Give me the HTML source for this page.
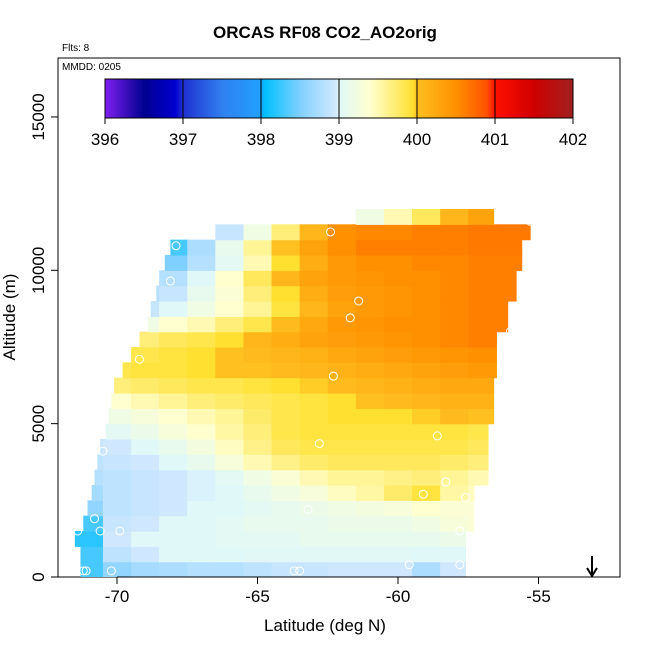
<!DOCTYPE html>
<html><head><meta charset="utf-8">
<style>
html,body{margin:0;padding:0;background:#fff;}
svg{display:block;font-family:"Liberation Sans",sans-serif;}
</style></head>
<body>
<svg id="chart" width="650" height="650" viewBox="0 0 650 650">
<defs>
<linearGradient id="cbGrad" x1="0" x2="1" y1="0" y2="0"></linearGradient>
<clipPath id="plotClip"><rect x="58" y="58" width="562" height="519"></rect></clipPath>
</defs>
<text x="325" y="38" text-anchor="middle" font-size="17" font-weight="bold">ORCAS RF08 CO2_AO2orig</text>
<text x="62" y="51" font-size="10">Flts: 8</text>
<rect x="58" y="58" width="562" height="519" fill="none" stroke="#000" stroke-width="1"></rect>
<text x="62" y="70" font-size="10">MMDD: 0205</text>
<g id="cells" clip-path="url(#plotClip)"></g>
<g id="points"></g>
<g id="colorbar"></g>
<g id="axes"></g>
<text x="325" y="631" text-anchor="middle" font-size="17">Latitude (deg N)</text>
<text transform="translate(15,317) rotate(-90)" text-anchor="middle" font-size="17">Altitude (m)</text>
<g>
<line x1="592" y1="556" x2="592" y2="575" stroke="#000" stroke-width="2"></line>
<polyline points="587,568 592,576 597,568" fill="none" stroke="#000" stroke-width="2"></polyline>
</g>
</svg>
<script>
const latCenters = [-71,-70,-69,-68,-67,-66,-65,-64,-63,-62,-61,-60,-59,-58,-57,-56,-55];
const altStarts = [0,500,1000,1500,2000,2500,3000,3500,4000,4500,5000,5500,6000,6500,7000,7500,8000,8500,9000,9500,10000,10500,11000,11500];
const rowLatMin = [-71.3,-71.3,-71.5,-71.2,-71.05,-70.9,-70.8,-70.7,-70.6,-70.4,-70.3,-70.2,-70.1,-69.8,-69.5,-69.2,-68.9,-68.8,-68.6,-68.5,-68.3,-68.1,-66.5,-61.5];
const rowLatMax = [-57.6,-57.6,-57.6,-57.3,-57.3,-57.3,-56.8,-56.8,-56.8,-56.8,-56.6,-56.6,-56.6,-56.3,-56.3,-56.3,-56.1,-56.1,-55.8,-55.8,-55.6,-55.6,-55.3,-56.6];
const n = null;
const co2 = [
[398.3,398.6,398.7,398.75,398.8,398.8,398.85,398.9,398.9,398.95,398.95,398.95,398.75,398.95,n,n,n],
[398.3,398.85,398.95,399,399,399,399.02,399.02,399.02,399.02,399.02,399.02,399,399,n,n,n],
[398.2,398.95,399,399,399,399.05,399.05,399.05,399.1,399.1,399.1,399.1,399.1,399.15,n,n,n],
[398.3,398.9,398.95,399,399,399.05,399.1,399.1,399.1,399.15,399.15,399.15,399.2,399.3,399.35,n,n],
[398.6,398.85,398.9,398.95,399,399,399.05,399.1,399.15,399.2,399.25,399.3,399.4,399.35,399.35,n,n],
[398.7,398.85,398.9,398.95,398.98,399,399.1,399.2,399.3,399.45,399.55,399.75,399.9,399.55,399.45,n,n],
[398.8,398.85,398.9,398.95,398.98,399.05,399.2,399.35,399.5,399.6,399.6,399.65,399.7,399.6,399.5,n,n],
[398.85,398.9,398.95,399.0,399.1,399.3,399.5,399.65,399.75,399.8,399.8,399.8,399.8,399.75,399.7,n,n],
[398.9,398.95,399.0,399.1,399.25,399.45,399.65,399.8,399.85,399.85,399.85,399.85,399.85,399.85,399.8,n,n],
[399.0,399.05,399.15,399.3,399.4,399.55,399.7,399.85,399.9,399.9,399.9,399.9,399.9,399.9,399.85,n,n],
[399.2,399.2,399.3,399.4,399.5,399.6,399.75,399.85,399.9,399.95,399.95,399.95,399.98,400.05,400.0,n,n],
[399.4,399.4,399.5,399.6,399.7,399.75,399.8,399.85,399.9,399.95,400,400.05,400.1,400.15,400.15,n,n],
[399.7,399.7,399.75,399.8,399.85,399.85,399.9,399.95,399.98,400.05,400.1,400.15,400.2,400.25,400.25,n,n],
[n,399.85,399.9,399.9,399.95,400,400,400.05,400.1,400.15,400.2,400.25,400.3,400.35,400.4,n,n],
[n,399.8,399.85,399.9,399.95,400,400.05,400.1,400.15,400.25,400.3,400.35,400.4,400.45,400.5,n,n],
[n,399.7,399.7,399.8,399.85,399.95,400.1,400.2,400.3,400.35,400.4,400.45,400.5,400.55,400.6,n,n],
[n,n,399.2,399.4,399.5,399.7,399.85,400.05,400.25,400.4,400.45,400.5,400.5,400.55,400.6,400.6,n],
[n,n,398.9,399.0,399.2,399.4,399.6,399.9,400.1,400.3,400.4,400.45,400.5,400.55,400.6,400.6,n],
[n,n,398.8,398.9,399.1,399.35,399.7,399.95,400.2,400.35,400.4,400.45,400.5,400.55,400.6,400.6,n],
[n,n,398.6,398.8,399.0,399.4,399.8,400.1,400.3,400.4,400.45,400.5,400.5,400.55,400.6,400.6,n],
[n,n,n,398.5,398.8,399.05,399.5,399.95,400.2,400.4,400.5,400.5,400.55,400.55,400.6,400.6,400.6],
[n,n,n,398.3,398.75,399.1,399.6,400.0,400.3,400.5,400.6,400.6,400.6,400.6,400.65,400.65,400.65],
[n,n,n,n,398.8,398.9,399.2,399.7,400.1,400.5,400.55,400.55,400.6,400.6,400.65,400.65,400.65],
[n,n,n,n,n,n,n,n,398.9,399.0,399.2,399.5,399.8,400.1,400.3,400.5,400.5]
];
const pointLat = [-67.9,-68.1,-61.4,-61.7,-62.4,-58.0,-55.3,-56.0,-69.2,-62.3,-58.6,-62.8,-58.3,-59.1,-63.2,-70.8,-70.6,-69.9,-71.4,-57.8,-59.6,-57.8,-71.2,-71.1,-70.2,-63.7,-63.5,-70.5,-57.6];
const pointAlt = [10800,9650,9000,8450,11250,12200,11600,8000,7100,6550,4600,4350,3100,2700,2200,1900,1500,1500,1500,1500,400,400,200,200,200,200,200,4100,2600];
const xTicks = [-70,-65,-60,-55];
const yTicks = [0,5000,10000,15000];
const cbTicks = [396,397,398,399,400,401,402];
const cbStopVals = [396,396.5,396.9,397,397.5,398,398.05,398.5,398.95,399,399.4,399.95,400,400.5,400.9,401,401.5,402];
const cbStopCols = ["#8020f0","#000090","#0000d0","#2030d0","#3080f0","#20a0ff","#00c0ff","#80d0ff","#d0e8ff","#e0f8f8","#ffffd0","#ffe030","#ffc020","#ff9000","#ff5000","#ff1000","#d00000","#a02020"];

const NS="http://www.w3.org/2000/svg";
const xs = v => 117 + (v + 70) * 28.1;
const ys = v => 577 - v * 0.03067;
const cbx = v => 105 + (v - 396) * 78;
function hex2rgb(h){return [1,3,5].map(i=>parseInt(h.substr(i,2),16));}
function colorFor(v){
  if(v<=cbStopVals[0]) return cbStopCols[0];
  for(let i=1;i<cbStopVals.length;i++){
    if(v<=cbStopVals[i]){
      const t=(v-cbStopVals[i-1])/(cbStopVals[i]-cbStopVals[i-1]);
      const a=hex2rgb(cbStopCols[i-1]), b=hex2rgb(cbStopCols[i]);
      return "rgb("+a.map((c,k)=>Math.round(c+(b[k]-c)*t)).join(",")+")";
    }
  }
  return cbStopCols[cbStopCols.length-1];
}
function mk(tag,attrs,parent){const e=document.createElementNS(NS,tag);for(const k in attrs)e.setAttribute(k,attrs[k]);parent.appendChild(e);return e;}

const cellsG=document.getElementById('cells');
co2.forEach((row,ri)=>{
  const a0=altStarts[ri], a1=a0+500;
  row.forEach((v,ci)=>{
    if(v===null) return;
    let l0=Math.max(latCenters[ci]-0.5,rowLatMin[ri]);
    let l1=Math.min(latCenters[ci]+0.5,rowLatMax[ri]);
    if(l1<=l0) return;
    const x0=xs(l0), x1=xs(l1);
    const r=mk('rect',{x:x0,y:ys(a1),width:x1-x0+0.6,height:ys(a0)-ys(a1)+0.6,fill:colorFor(v)},cellsG);
    
    
  });
});
const ptsG=document.getElementById('points');
pointLat.forEach((la,i)=>{
  const c=mk('circle',{cx:xs(la),cy:ys(pointAlt[i]),r:4,fill:'none',stroke:'#fff','stroke-width':1},ptsG);
  
  
});
const grad=document.getElementById('cbGrad');
cbStopVals.forEach((v,i)=>{mk('stop',{offset:((v-396)/6*100)+'%','stop-color':cbStopCols[i]},grad);});
const cbG=document.getElementById('colorbar');
const cbr=mk('rect',{x:105,y:79,width:468,height:39,fill:'url(#cbGrad)',stroke:'#000','stroke-width':1},cbG);


cbTicks.forEach(t=>{
  const x=cbx(t);
  mk('line',{x1:x,y1:79,x2:x,y2:124,stroke:'#000','stroke-width':1},cbG);
  const tx=mk('text',{x:x,y:145,'text-anchor':'middle','font-size':17},cbG);
  tx.textContent=t;
  
  
});
const axG=document.getElementById('axes');
mk('line',{x1:xs(-70),y1:577,x2:xs(-55),y2:577,stroke:'#000'},axG);
xTicks.forEach(t=>{
  const x=xs(t);
  mk('line',{x1:x,y1:577,x2:x,y2:584,stroke:'#000'},axG);
  const tx=mk('text',{x:x,y:602,'text-anchor':'middle','font-size':17},axG);
  tx.textContent=t;
  
  
});
yTicks.forEach(t=>{
  const y=ys(t);
  mk('line',{x1:51,y1:y,x2:58,y2:y,stroke:'#000'},axG);
  const tx=mk('text',{x:0,y:0,'text-anchor':'middle','font-size':17,transform:'translate(44,'+y+') rotate(-90)'},axG);
  tx.textContent=t;
  
  
});
</script>
</body></html>
